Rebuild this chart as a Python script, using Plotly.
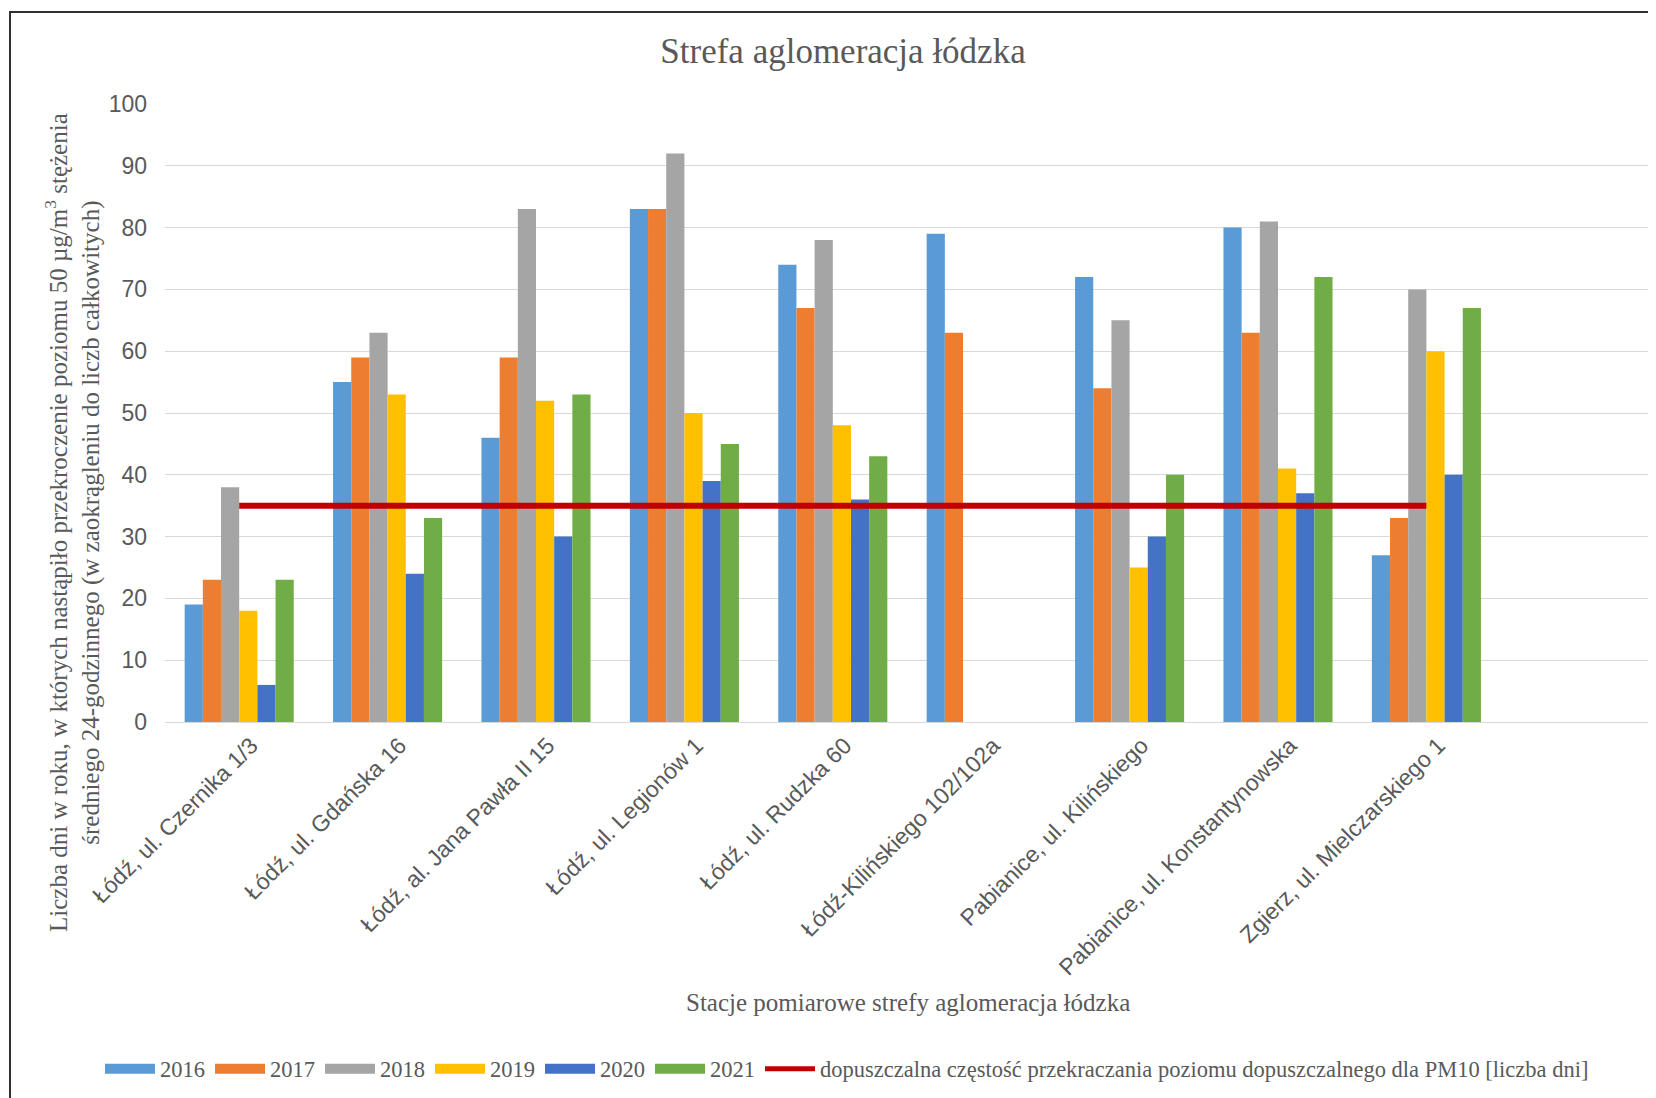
import plotly.graph_objects as go

stations = [
    "Łódź, ul. Czernika 1/3",
    "Łódź, ul. Gdańska 16",
    "Łódź, al. Jana Pawła II 15",
    "Łódź, ul. Legionów 1",
    "Łódź, ul. Rudzka 60",
    "Łódź-Kilińskiego 102/102a",
    "Pabianice, ul. Kilińskiego",
    "Pabianice, ul. Konstantynowska",
    "Zgierz, ul. Mielczarskiego 1",
]
years = ["2016", "2017", "2018", "2019", "2020", "2021"]
v2016 = [19, 55, 46, 83, 74, 79, 72, 80, 27]
v2017 = [23, 59, 59, 83, 67, 63, 54, 63, 33]
v2018 = [38, 63, 83, 92, 78, None, 65, 81, 70]
v2019 = [18, 53, 52, 50, 48, None, 25, 41, 60]
v2020 = [6, 24, 30, 39, 36, None, 30, 37, 40]
v2021 = [23, 33, 53, 45, 43, None, 40, 72, 67]
limit_days = 35
limit_name = "dopuszczalna częstość przekraczania poziomu dopuszczalnego dla PM10 [liczba dni]"
y_ticks = [0, 10, 20, 30, 40, 50, 60, 70, 80, 90, 100]

colors = ["#5B9BD5", "#ED7D31", "#A5A5A5", "#FFC000", "#4472C4", "#70AD47"]
series = [v2016, v2017, v2018, v2019, v2020, v2021]

# page body has an 8px margin; positions below are target screen pixels
OFF = 8
W, H = 1656, 1098
L, R, T, B = 157, 15, 96, 384
pw, ph = W - L - R, H - T - B

def px_x(x):
    return (x - OFF - L) / pw

def px_y(y):
    return (H - B - (y - OFF)) / ph

fig = go.Figure()
for name, vals, c in zip(years, series, colors):
    fig.add_trace(go.Bar(x=stations, y=vals, name=name, marker=dict(color=c, line=dict(width=0)),
                         showlegend=False))

fig.add_trace(go.Scatter(x=stations, y=[limit_days] * len(stations), mode="lines",
                         line=dict(color="#C00000", width=6), name=limit_name, showlegend=False))

# legend entries (wide swatches like the original)
for name, c in zip(years, colors):
    fig.add_trace(go.Scatter(x=[None], y=[None], mode="lines", name=name,
                             line=dict(color=c, width=11)))
fig.add_trace(go.Scatter(x=[None], y=[None], mode="lines", name=limit_name,
                         line=dict(color="#C00000", width=5)))

grey = "#595959"
fig.update_layout(
    width=W, height=H,
    margin=dict(l=L, r=R, t=T, b=B),
    paper_bgcolor="white", plot_bgcolor="white",
    barmode="group", bargap=0.265, bargroupgap=0,
    title=dict(text="Strefa aglomeracja łódzka", x=(843 - OFF) / W, xanchor="center",
               y=1 - (51 - OFF) / H, yanchor="middle", yref="container",
               font=dict(family="Liberation Serif", size=35, color=grey)),
    legend=dict(orientation="h", x=px_x(100), xanchor="left",
                y=px_y(1069), yanchor="middle",
                font=dict(family="Liberation Serif", size=22.5, color=grey),
                itemwidth=50, tracegroupgap=0),
    xaxis=dict(type="category", range=[-0.5, 9.5], tickangle=-45,
               tickfont=dict(family="Liberation Sans", size=23, color=grey),
               ticklabelshift=12,
               showgrid=False, showline=True, linecolor="#D9D9D9", linewidth=1,
               ticks="", automargin=False),
    yaxis=dict(range=[0, 100], tickvals=y_ticks, showgrid=True, gridcolor="#D9D9D9", gridwidth=1,
               zeroline=False, showline=False, ticks="", ticklabelstandoff=17,
               tickfont=dict(family="Liberation Sans", size=23, color=grey), automargin=False),
    showlegend=True,
)

fig.add_annotation(
    text="Liczba dni w roku, w których nastąpiło przekroczenie poziomu 50 µg/m<sup>3</sup> stężenia<br>średniego 24-godzinnego (w zaokrągleniu do liczb całkowitych)",
    xref="paper", yref="paper", x=px_x(72), y=px_y(523), xanchor="center", yanchor="middle",
    textangle=-90, showarrow=False,
    font=dict(family="Liberation Serif", size=25, color=grey))

fig.add_annotation(
    text="Stacje pomiarowe strefy aglomeracja łódzka",
    xref="paper", yref="paper", x=px_x(908), y=px_y(1003), xanchor="center", yanchor="middle",
    showarrow=False, font=dict(family="Liberation Serif", size=25, color=grey))

fig.add_shape(type="rect", xref="paper", yref="paper",
              x0=px_x(10), x1=px_x(1670), y0=px_y(1110), y1=px_y(12),
              line=dict(color="#303030", width=2), fillcolor="rgba(0,0,0,0)", layer="above")

fig.write_html("out.html")
